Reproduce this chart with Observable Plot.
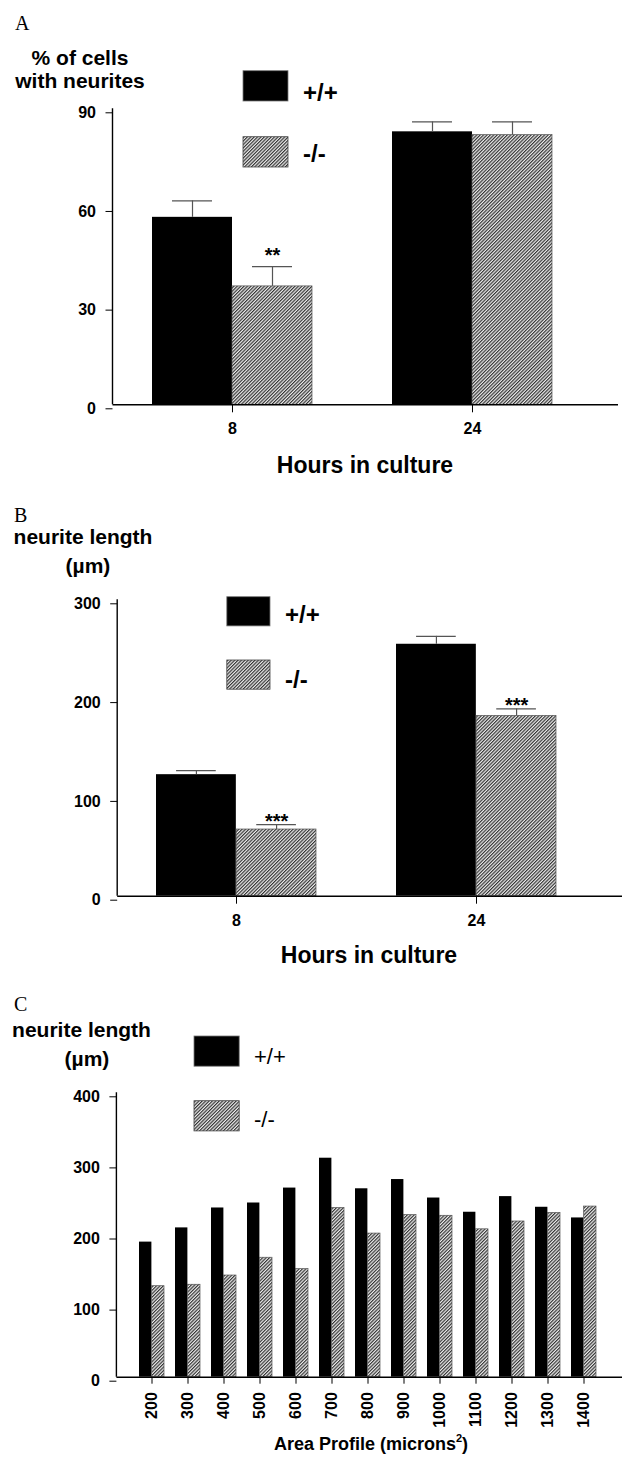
<!DOCTYPE html>
<html>
<head>
<meta charset="utf-8">
<script src="https://cdn.jsdelivr.net/npm/d3@7"></script>
<script src="https://cdn.jsdelivr.net/npm/@observablehq/plot@0.6"></script>
<style>
  html, body { margin: 0; padding: 0; background: #fff; }
  #figure { width: 626px; height: 1461px; position: relative; }
  #figure svg { display: block; }
</style>
</head>
<body>
<div id="figure"></div>
<script>
// ---- Panel A: % of cells with neurites (mean, SEM) ----
const hours = ["8", "24"];
const genotypes = ["+/+", "-/-"];
const pctWT = [57, 83];
const pctWTsem = [5, 3];
const pctKO = [36, 82];
const pctKOsem = [6, 4];
const pctSig = ["**", ""];
const pctTicks = [0, 30, 60, 90];

// ---- Panel B: neurite length (µm) ----
const lenWT = [123, 255];
const lenWTsem = [4, 8];
const lenKO = [67.5, 182.5];
const lenKOsem = [5, 7];
const lenSig = ["***", "***"];
const lenTicks = [0, 100, 200, 300];

// ---- Panel C: neurite length by area profile ----
const areas = ["200", "300", "400", "500", "600", "700", "800", "900", "1000", "1100", "1200", "1300", "1400"];
const areaWT = [190, 210, 238, 245, 266, 308, 265, 278, 252, 232, 254, 239, 224];
const areaKO = [128, 130, 143, 168, 152, 238, 202, 228, 227, 208, 219, 231, 240];
const areaTicks = [0, 100, 200, 300, 400];

const SANS = "'Liberation Sans', Arial, Helvetica, sans-serif";
const SERIF = "'Liberation Serif', 'Times New Roman', serif";
const W = 626;

function rowsFrom(cats, wt, wtSem, ko, koSem, sig) {
  return cats.map((c, i) => ({
    cat: c,
    wt: wt[i],
    wtTop: wt[i] + (wtSem ? wtSem[i] : 0),
    ko: ko[i],
    koTop: ko[i] + (koSem ? koSem[i] : 0),
    sig: sig ? sig[i] : ""
  }));
}

// band width of a band scale with no outer padding
function bandwidthOf(range, n, pInner) {
  const step = (range[1] - range[0]) / (n - pInner);
  return step * (1 - pInner);
}

// diagonal "////" hatching used for the -/- genotype
function addHatch(svg, id) {
  const s = 2.4;
  const p = d3.select(svg).insert("defs", ":first-child").append("pattern")
    .attr("id", id)
    .attr("patternUnits", "userSpaceOnUse")
    .attr("width", s).attr("height", s)
    .attr("patternTransform", "rotate(45)");
  p.append("rect").attr("width", s).attr("height", s).attr("fill", "#ececec");
  p.append("line")
    .attr("x1", 0.6).attr("x2", 0.6).attr("y1", 0).attr("y2", s)
    .attr("stroke", "#262626").attr("stroke-width", 1.1);
}

function addText(svg, x, y, str, size, opts = {}) {
  return d3.select(svg).append("text")
    .attr("x", x).attr("y", y)
    .attr("font-family", opts.family || SANS)
    .attr("font-size", size)
    .attr("font-weight", opts.weight || "bold")
    .attr("text-anchor", opts.anchor || "start")
    .attr("fill", "black")
    .text(str);
}

function addLegend(svg, hatchId, x, y1, y2, w, h, textX, b1, b2, size, weight) {
  const g = d3.select(svg).append("g");
  g.append("rect").attr("x", x).attr("y", y1).attr("width", w).attr("height", h)
    .attr("fill", "black").attr("stroke", "#777").attr("stroke-width", 0.8);
  g.append("rect").attr("x", x).attr("y", y2).attr("width", w).attr("height", h)
    .attr("fill", `url(#${hatchId})`).attr("stroke", "#444").attr("stroke-width", 0.8);
  addText(svg, textX, b1, genotypes[0], size, {weight});
  addText(svg, textX, b2, genotypes[1], size, {weight});
}

function groupedPanel({rows, domain, yDomain, ticks, height, mTop, mBottom, mLeft, mRight,
                       xRange, pInner, hatchId, capWidth, sigDy, sigSize, rotate, errors}) {
  const bw = bandwidthOf(xRange, domain.length, pInner);
  const half = bw / 2;
  const fill = `url(#${hatchId})`;
  const marks = [
    Plot.barY(rows, {x: "cat", y: "wt", fill: "black", insetRight: half}),
    Plot.barY(rows, {x: "cat", y: "ko", fill, stroke: "#555", strokeWidth: 0.7, insetLeft: half})
  ];
  if (errors) {
    const capInset = (bw - capWidth) / 2;
    marks.push(
      Plot.ruleX(rows, {x: "cat", y1: "wt", y2: "wtTop", dx: -half / 2, stroke: "#555", strokeWidth: 1.2}),
      Plot.ruleX(rows, {x: "cat", y1: "ko", y2: "koTop", dx: half / 2, stroke: "#555", strokeWidth: 1.2}),
      Plot.tickY(rows, {x: "cat", y: "wtTop", dx: -half / 2, insetLeft: capInset, insetRight: capInset, stroke: "#555", strokeWidth: 1.2}),
      Plot.tickY(rows, {x: "cat", y: "koTop", dx: half / 2, insetLeft: capInset, insetRight: capInset, stroke: "#555", strokeWidth: 1.2}),
      Plot.text(rows, {x: "cat", y: "koTop", text: "sig", dx: half / 2, dy: sigDy, lineAnchor: "bottom",
                       fontSize: sigSize, fontWeight: "bold"})
    );
  }
  marks.push(
    Plot.ruleY([0], {stroke: "black", strokeWidth: 1.6}),
    Plot.axisY({ticks, tickSize: 7, tickPadding: 10, label: null, fontSize: 16, dy: 4, tickFormat: d3.format("d")}),
    rotate
      ? Plot.axisX({tickSize: 7, tickPadding: 8, tickRotate: -90, label: null, fontSize: 16})
      : Plot.axisX({tickSize: 8, tickPadding: 10, label: null, fontSize: 16})
  );
  const svg = Plot.plot({
    width: W, height,
    marginTop: mTop, marginBottom: mBottom, marginLeft: mLeft, marginRight: mRight,
    style: {fontFamily: SANS, fontWeight: "bold", background: "white", color: "black", overflow: "visible"},
    x: {type: "band", domain, range: xRange, paddingInner: pInner, paddingOuter: 0, align: 0.5},
    y: {domain: yDomain, range: [height - mBottom, mTop]},
    marks
  });
  addHatch(svg, hatchId);
  // left axis line, placed through the y scale
  const ys = svg.scale("y");
  d3.select(svg).append("line")
    .attr("x1", mLeft).attr("x2", mLeft)
    .attr("y1", ys.apply(yDomain[0])).attr("y2", ys.apply(yDomain[1]))
    .attr("stroke", "black").attr("stroke-width", 1.4);
  return svg;
}

const fig = document.getElementById("figure");

// ---------- A ----------
const svgA = groupedPanel({
  rows: rowsFrom(hours, pctWT, pctWTsem, pctKO, pctKOsem, pctSig),
  domain: hours, yDomain: [0, 90], ticks: pctTicks,
  height: 480, mTop: 108.3, mBottom: 75.7, mLeft: 112.5, mRight: 8,
  xRange: [152, 552], pInner: 1 / 3, hatchId: "hatchA", capWidth: 40,
  sigDy: -5, sigSize: 20, rotate: false, errors: true
});
addText(svgA, 15, 30, "A", 20, {family: SERIF, weight: "normal"});
addText(svgA, 80, 65, "% of cells", 21, {anchor: "middle"});
addText(svgA, 80, 88, "with neurites", 21, {anchor: "middle"});
addLegend(svgA, "hatchA", 243, 70.7, 136.7, 45, 30.3, 303, 101, 162, 24, "bold");
addText(svgA, 365, 473, "Hours in culture", 23, {anchor: "middle"});
fig.appendChild(svgA);

// ---------- B ----------
const svgB = groupedPanel({
  rows: rowsFrom(hours, lenWT, lenWTsem, lenKO, lenKOsem, lenSig),
  domain: hours, yDomain: [0, 300], ticks: lenTicks,
  height: 500, mTop: 119.3, mBottom: 84.3, mLeft: 117.2, mRight: 4,
  xRange: [156, 556.8], pInner: 1 / 3, hatchId: "hatchB", capWidth: 40,
  sigDy: 3, sigSize: 20, rotate: false, errors: true
});
addText(svgB, 14, 42, "B", 20, {family: SERIF, weight: "normal"});
addText(svgB, 83, 64, "neurite length", 21, {anchor: "middle"});
addText(svgB, 88, 93, "(µm)", 21, {anchor: "middle"});
addLegend(svgB, "hatchB", 226.8, 116.7, 180, 43.2, 29.2, 285, 143, 208, 24, "bold");
addText(svgB, 369, 483, "Hours in culture", 23, {anchor: "middle"});
fig.appendChild(svgB);

// ---------- C ----------
const svgC = groupedPanel({
  rows: rowsFrom(areas, areaWT, null, areaKO, null, null),
  domain: areas, yDomain: [0, 400], ticks: areaTicks,
  height: 481, mTop: 112.3, mBottom: 84.3, mLeft: 116.4, mRight: 4,
  xRange: [133.4, 601.8], pInner: 0.317, hatchId: "hatchC", capWidth: 0,
  sigDy: 0, sigSize: 16, rotate: true, errors: false
});
addText(svgC, 14, 31, "C", 20, {family: SERIF, weight: "normal"});
addText(svgC, 81.5, 57, "neurite length", 21, {anchor: "middle"});
addText(svgC, 87, 86, "(µm)", 21, {anchor: "middle"});
addLegend(svgC, "hatchC", 194, 56, 120.7, 45.2, 30.2, 254, 84, 147, 22, "normal");
const xt = addText(svgC, 371, 470, "Area Profile (microns", 18, {anchor: "middle"});
xt.append("tspan").attr("font-size", 11).attr("dy", -8).text("2");
xt.append("tspan").attr("dy", 8).text(")");
fig.appendChild(svgC);
</script>
</body>
</html>
